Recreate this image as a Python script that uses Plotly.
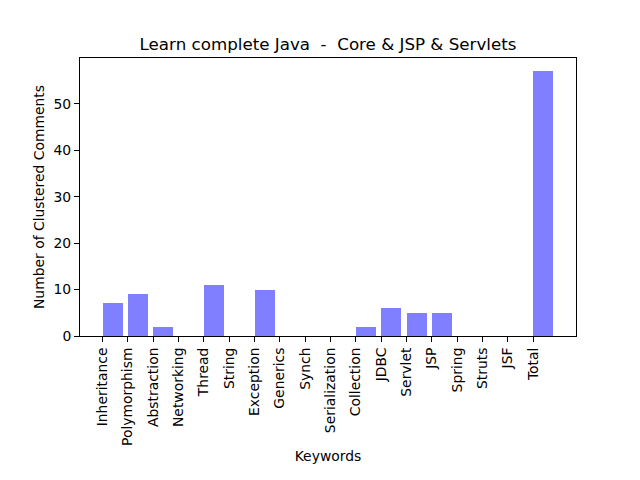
import plotly.graph_objects as go

keywords = ["Inheritance", "Polymorphism", "Abstraction", "Networking", "Thread", "String",
            "Exception", "Generics", "Synch", "Serialization", "Collection", "JDBC",
            "Servlet", "JSP", "Spring", "Struts", "JSF", "Total"]
counts = [7, 9, 2, 0, 11, 0, 10, 0, 0, 0, 2, 6, 5, 5, 0, 0, 0, 57]
positions = list(range(len(keywords)))
y_ticks = [0, 10, 20, 30, 40, 50]

font = dict(family="DejaVu Sans", size=13.9, color="black")

fig = go.Figure(go.Bar(
    x=positions, y=counts, width=0.8, offset=0,
    marker=dict(color="rgba(0,0,255,0.5)", line=dict(width=0)),
))

fig.update_layout(
    width=640, height=480,
    margin=dict(l=72, r=72, t=50, b=152),
    paper_bgcolor="white", plot_bgcolor="white",
    font=font,
    showlegend=False,
    title=dict(text="Learn complete Java  -  Core & JSP & Servlets",
               x=(328 - 8) / 640, xanchor="center", y=1 - 36/480, yanchor="middle",
               font=dict(family="DejaVu Sans", size=16.7, color="black")),
    bargap=0,
)
fig.update_xaxes(
    range=[-0.89, 18.69], tickvals=positions, ticktext=keywords, tickangle=-90,
    showline=True, linecolor="black", linewidth=1, mirror=True,
    ticks="outside", ticklen=5, tickcolor="black", showgrid=False, zeroline=False,
    title=dict(text="Keywords", font=font, standoff=6),
    tickfont=font,
)
fig.update_yaxes(
    range=[0, 59.85], tickvals=y_ticks,
    showline=True, linecolor="black", linewidth=1, mirror=True,
    ticks="outside", ticklen=5, tickcolor="black", showgrid=False, zeroline=False,
    title=dict(text="Number of Clustered Comments", font=font, standoff=5),
    tickfont=font,
)

fig.write_html("out.html")
